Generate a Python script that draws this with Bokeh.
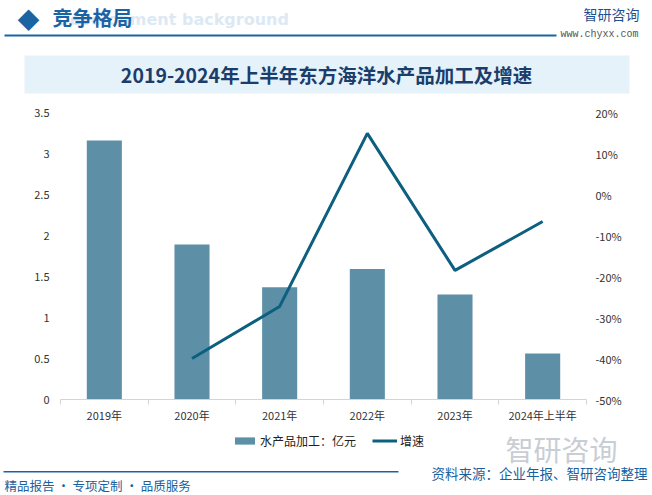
from bokeh.plotting import figure
from bokeh.layouts import column
from bokeh.models import (Range1d, LinearAxis, FixedTicker, PrintfTickFormatter,
                          Label, BoxAnnotation, Legend, LegendItem, ColumnDataSource)
from bokeh.embed import file_html
from bokeh.resources import INLINE

# ---------------- data ----------------
categories = ["2019年", "2020年", "2021年", "2022年", "2023年", "2024年上半年"]
processing = [3.16, 1.89, 1.37, 1.59, 1.28, 0.56]          # 水产品加工：亿元
growth = [None, -40.0, -27.3, 14.9, -18.5, -6.6]            # 增速 %
left_ticks = [0, 0.5, 1, 1.5, 2, 2.5, 3, 3.5]
right_ticks = [-50, -40, -30, -20, -10, 0, 10, 20]

BAR_COLOR = "#5d90a7"
LINE_COLOR = "#0c5f7f"
BLUE = "#1a64a3"
FONT = "Noto Sans CJK SC"

W = 652
HEAD_H = 100          # header band: page y 0..100
MAIN_H = 326          # chart band: page y 100..426
FOOT_H = 69           # footer band: page y 426..495
FL, FR, FT, FB = 60, 586, 112, 399   # frame edges in page pixels


def band(h, y0):
    f = figure(width=W, height=h, output_backend="svg", toolbar_location=None,
               x_range=Range1d(0, W), y_range=Range1d(y0 + h, y0),
               x_axis_type=None, y_axis_type=None, frame_align=False,
               min_border=0, outline_line_color=None,
               background_fill_color="white", border_fill_color="white")
    f.grid.visible = False
    return f


def lab(f, x, y, text, size, color, align="left", bold=False, font=FONT):
    f.add_layout(Label(x=x, y=y, text=text, text_font=font, text_font_size=size,
                       text_color=color, text_align=align, text_baseline="middle",
                       text_font_style="bold" if bold else "normal"))


def box(f, l, r, t, b, color):
    f.add_layout(BoxAnnotation(left=l, right=r, top=t, bottom=b, fill_color=color,
                               fill_alpha=1, line_color=None, level="underlay"))


# ---------------- header ----------------
head = band(HEAD_H, 0)
lab(head, 56, 19, "Development background", "16px", "#dce9f5", bold=True, font="DejaVu Sans")
lab(head, 17, 17, "◆", "22px", BLUE)
lab(head, 52, 17, "竞争格局", "20px", BLUE, bold=True)
box(head, 4, 556, 34, 36, BLUE)
lab(head, 583, 13, "智研咨询", "14px", "#1f4f8f")
lab(head, 560, 34, "www.chyxx.com", "10px", "#555555", font="Liberation Mono")
box(head, 24, 629, 55, 93, "#e6f2fa")
lab(head, 326, 74, "2019-2024年上半年东方海洋水产品加工及增速", "19.5px", "#1b3d6b",
    align="center", bold=True)

# ---------------- main chart ----------------
p = figure(width=W, height=MAIN_H, output_backend="svg", toolbar_location=None,
           x_range=Range1d(0, len(categories)), y_range=Range1d(0, 3.5),
           x_axis_type=None, y_axis_type=None, frame_align=False,
           min_border_left=FL, min_border_right=W - FR,
           min_border_top=FT - HEAD_H, min_border_bottom=HEAD_H + MAIN_H - FB,
           background_fill_color="white", border_fill_color="white",
           outline_line_color=None)
p.grid.visible = False
p.extra_y_ranges = {"pct": Range1d(-50, 20)}

xs = [i + 0.5 for i in range(len(categories))]
xaxis = LinearAxis(ticker=FixedTicker(ticks=xs, minor_ticks=list(range(len(categories) + 1))),
                   major_label_overrides={x: c for x, c in zip(xs, categories)})
xaxis.axis_line_color = "#d4d4d4"
xaxis.major_tick_line_color = None
xaxis.major_tick_out = 0
xaxis.major_tick_in = 0
xaxis.minor_tick_line_color = "#d4d4d4"
xaxis.minor_tick_out = 5
xaxis.minor_tick_in = 0
xaxis.major_label_text_font = FONT
xaxis.major_label_text_font_size = "11px"
xaxis.major_label_text_color = "#333333"
xaxis.major_label_standoff = 2
p.add_layout(xaxis, "below")

yaxis = LinearAxis(ticker=FixedTicker(ticks=left_ticks),
                   major_label_overrides={t: (str(t) if t != int(t) else str(int(t))) for t in left_ticks})
yaxis.axis_line_color = None
yaxis.major_tick_line_color = None
yaxis.major_tick_out = 0
yaxis.minor_tick_line_color = None
yaxis.major_label_text_font = FONT
yaxis.major_label_text_font_size = "11px"
yaxis.major_label_text_color = "#333333"
yaxis.major_label_standoff = 11
p.add_layout(yaxis, "left")

raxis = LinearAxis(y_range_name="pct", ticker=FixedTicker(ticks=right_ticks),
                   formatter=PrintfTickFormatter(format="%d%%"))
raxis.axis_line_color = None
raxis.major_tick_line_color = None
raxis.major_tick_out = 0
raxis.minor_tick_line_color = None
raxis.major_label_text_font = FONT
raxis.major_label_text_font_size = "11px"
raxis.major_label_text_color = "#333333"
raxis.major_label_standoff = 9
p.add_layout(raxis, "right")

src = ColumnDataSource(dict(x=xs, v=processing))
p.vbar(x="x", top="v", width=0.4, source=src, fill_color=BAR_COLOR, line_color=None)
gx = [x for x, g in zip(xs, growth) if g is not None]
gy = [g for g in growth if g is not None]
p.line(gx, gy, y_range_name="pct", line_color=LINE_COLOR, line_width=3)

# ---------------- footer (legend + source) ----------------
foot = band(FOOT_H, HEAD_H + MAIN_H)
lb = foot.vbar(x=[-100], top=[-100], width=1, fill_color=BAR_COLOR, line_color=None)
ll = foot.line(x=[-100, -99], y=[-100, -100], line_color=LINE_COLOR, line_width=3)
legend = Legend(items=[LegendItem(label="水产品加工：亿元", renderers=[lb]),
                       LegendItem(label="增速", renderers=[ll])],
                orientation="horizontal", location=(232, 46),
                border_line_color=None, background_fill_alpha=0,
                padding=0, margin=0, spacing=16, glyph_width=25, glyph_height=9,
                label_standoff=3, label_text_font=FONT, label_text_font_size="12px",
                label_text_color="#222222")
foot.add_layout(legend, "center")

lab(foot, 505, 448, "智研咨询", "28px", "#c9cdd4")
lab(foot, 647, 472, "资料来源：企业年报、智研咨询整理", "13.5px", "#1a5f9e", align="right")
box(foot, 3, 398, 470.5, 472, BLUE)
lab(foot, 4, 485, "精品报告 · 专项定制 · 品质服务", "12.5px", "#1a5f9e")

layout = column(head, p, foot, spacing=0)
open("out.html", "w").write(file_html(layout, INLINE))
